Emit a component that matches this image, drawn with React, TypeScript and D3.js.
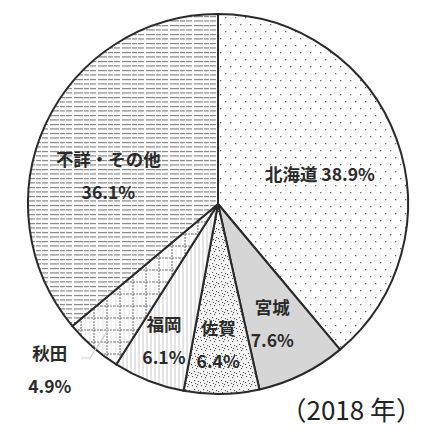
import React, { useEffect, useRef } from 'react';
import * as d3 from 'd3';

// 都道府県別の割合（2018 年）— clockwise from 12 o'clock
const names = ['北海道', '宮城', '佐賀', '福岡', '秋田', '不詳・その他'];
const shares = [38.9, 7.6, 6.4, 6.1, 4.9, 36.1];
const yearLabel = '（2018 年）';

function App() {
  const ref = useRef<SVGSVGElement>(null);

  useEffect(() => {
    document.body.style.margin = '0';
    const svg = d3.select(ref.current);
    svg.selectAll('*').remove();

    const width = 432;
    const height = 430;
    const cx = 218;
    const cy = 204;
    const radius = 190;
    const ink = '#2a2a2a';
    const font = '"Noto Sans CJK JP", "Noto Sans", sans-serif';

    const defs = svg.append('defs');

    // sparse dots (北海道)
    const pDots = defs.append('pattern').attr('id', 'p-dots')
      .attr('patternUnits', 'userSpaceOnUse').attr('width', 10).attr('height', 14);
    pDots.append('rect').attr('width', 10).attr('height', 14).attr('fill', '#fff');
    [[2, 2], [7, 9]].forEach(([x, y]) =>
      pDots.append('rect').attr('x', x).attr('y', y).attr('width', 1.3).attr('height', 1.3).attr('fill', '#6a6a6a'));

    // speckle (佐賀)
    const pSpk = defs.append('pattern').attr('id', 'p-speckle')
      .attr('patternUnits', 'userSpaceOnUse').attr('width', 9).attr('height', 9);
    pSpk.append('rect').attr('width', 9).attr('height', 9).attr('fill', '#f4f4f4');
    [[1, 1], [5, 2], [3, 5], [7, 6], [0, 7], [6, 0], [4, 8]].forEach(([x, y]) =>
      pSpk.append('rect').attr('x', x).attr('y', y).attr('width', 1.1).attr('height', 1.1).attr('fill', '#555'));

    // vertical hairlines (福岡)
    const pVert = defs.append('pattern').attr('id', 'p-vert')
      .attr('patternUnits', 'userSpaceOnUse').attr('width', 4).attr('height', 4);
    pVert.append('rect').attr('width', 4).attr('height', 4).attr('fill', '#fff');
    pVert.append('line').attr('x1', 1).attr('x2', 1).attr('y1', 0).attr('y2', 4)
      .attr('stroke', '#bdbdbd').attr('stroke-width', 0.8);

    // dashed grid (秋田)
    const pGrid = defs.append('pattern').attr('id', 'p-grid')
      .attr('patternUnits', 'userSpaceOnUse').attr('width', 13).attr('height', 12);
    pGrid.append('rect').attr('width', 13).attr('height', 12).attr('fill', '#fff');
    pGrid.append('line').attr('x1', 0).attr('x2', 13).attr('y1', 6).attr('y2', 6)
      .attr('stroke', '#666').attr('stroke-width', 1).attr('stroke-dasharray', '2 1');
    pGrid.append('line').attr('x1', 6).attr('x2', 6).attr('y1', 0).attr('y2', 12)
      .attr('stroke', '#666').attr('stroke-width', 1).attr('stroke-dasharray', '2 1');
    pGrid.append('line').attr('x1', 2).attr('x2', 2).attr('y1', 0).attr('y2', 12)
      .attr('stroke', '#d4d4d4').attr('stroke-width', 0.6);
    pGrid.append('line').attr('x1', 10).attr('x2', 10).attr('y1', 0).attr('y2', 12)
      .attr('stroke', '#d4d4d4').attr('stroke-width', 0.6);

    // dashed horizontal lines (不詳・その他)
    const pHor = defs.append('pattern').attr('id', 'p-hor')
      .attr('patternUnits', 'userSpaceOnUse').attr('width', 24).attr('height', 4.5);
    pHor.append('rect').attr('width', 24).attr('height', 4.5).attr('fill', '#fff');
    pHor.append('line').attr('x1', 0).attr('x2', 24).attr('y1', 1.5).attr('y2', 1.5)
      .attr('stroke', '#7a7a7a').attr('stroke-width', 1.1).attr('stroke-dasharray', '9 1 5 1 6 2');

    const fills = ['url(#p-dots)', '#d6d6d6', 'url(#p-speckle)', 'url(#p-vert)', 'url(#p-grid)', 'url(#p-hor)'];

    const data = names.map((name, i) => ({ name, value: shares[i], i }));
    const pie = d3.pie<any>().value(d => d.value).sort(null);
    const arcs = pie(data);
    const arc = d3.arc<any>().innerRadius(0).outerRadius(radius);

    const g = svg.append('g').attr('transform', `translate(${cx},${cy})`);

    g.selectAll('path.slice')
      .data(arcs)
      .join('path')
      .attr('class', 'slice')
      .attr('d', arc)
      .attr('fill', d => fills[d.index])
      .attr('stroke', ink)
      .attr('stroke-width', 2)
      .attr('stroke-linejoin', 'round');

    // label placement (radius from centre, angle nudge in degrees)
    const place = [
      { r: 106, da: 4, one: true },
      { r: 132, da: 2, one: false },
      { r: 142, da: 1, one: false },
      { r: 148, da: 0, one: false },
      { r: 237, da: 4, one: false },
      { r: 113, da: -11, one: false },
    ];

    arcs.forEach((a, i) => {
      const mid = (a.startAngle + a.endAngle) / 2 + (place[i].da * Math.PI) / 180;
      const x = Math.sin(mid) * place[i].r;
      const y = -Math.cos(mid) * place[i].r;
      const pct = `${a.data.value.toFixed(1)}%`;
      const lines = place[i].one ? [`${a.data.name} ${pct}`] : [a.data.name, pct];
      const t = g.append('text')
        .attr('x', x)
        .attr('text-anchor', 'middle')
        .style('font-family', font)
        .style('font-size', '17.5px')
        .style('font-weight', 700)
        .style('fill', ink);
      const lh = 33;
      lines.forEach((l, k) => {
        t.append('tspan')
          .attr('x', x)
          .attr('y', y + 6 + (k - (lines.length - 1) / 2) * lh)
          .text(l);
      });
    });

    // faint leader line for 秋田
    const akita = arcs[4];
    const am = (akita.startAngle + akita.endAngle) / 2;
    const inner = [Math.sin(am) * radius * 0.87, -Math.cos(am) * radius * 0.87];
    g.append('polyline')
      .attr('points', `${-137},${154} ${-128},${154} ${inner[0]},${inner[1]}`)
      .attr('fill', 'none')
      .attr('stroke', '#cfcfcf')
      .attr('stroke-width', 1.2);

    svg.append('text')
      .attr('x', 422)
      .attr('y', 420)
      .attr('text-anchor', 'end')
      .style('font-family', font)
      .style('font-size', '26px')
      .style('font-weight', 400)
      .style('fill', '#222')
      .text(yearLabel);

    svg.attr('width', width).attr('height', height);
  }, []);

  return <svg ref={ref} width={432} height={430} style={{ display: 'block', background: '#fff' }} />;
}

export default App;
